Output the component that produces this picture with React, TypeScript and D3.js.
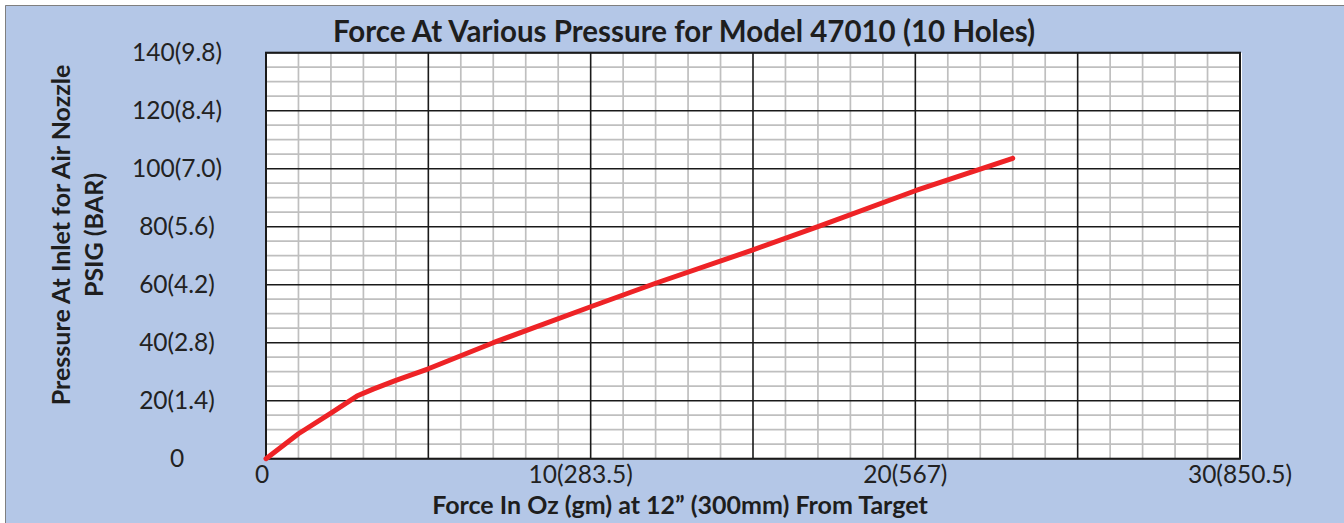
import React from "react";
import * as d3 from "d3";

const title = "Force At Various Pressure for Model 47010 (10 Holes)";
const xTitle = "Force In Oz (gm) at 12\u201D (300mm) From Target";
const yTitleLines = ["Pressure At Inlet for Air Nozzle", "PSIG (BAR)"];

const xTicks = [0, 10, 20, 30];
const xTickLabels = ["0", "10(283.5)", "20(567)", "30(850.5)"];
const yTicks = [0, 20, 40, 60, 80, 100, 120, 140];
const yTickLabels = ["0", "20(1.4)", "40(2.8)", "60(4.2)", "80(5.6)", "100(7.0)", "120(8.4)", "140(9.8)"];

const forceOz = [0, 1, 2, 2.8, 3.3, 4, 5, 7, 10, 12, 15, 17, 20, 23];
const pressurePsig = [0, 8.6, 15.7, 21.6, 24, 27, 31, 40, 52.4, 60.5, 72, 80, 92.4, 103.6];

const W = 1344;
const H = 523;
const FONT = "Lato, 'Open Sans', sans-serif";

export default function App() {
  const x = d3.scaleLinear().domain([0, 30]).range([266, 1240]);
  const y = d3.scaleLinear().domain([0, 140]).range([458.7, 52.7]);
  const [x0, x1] = x.range();
  const [y0, y1] = y.range();

  const minorX = d3.range(0, 31, 1).filter((v) => v % 5 !== 0);
  const majorX = d3.range(0, 31, 5);
  const minorY = d3.range(0, 141, 5).filter((v) => v % 20 !== 0);
  const majorY = d3.range(0, 141, 20);

  const pts: [number, number][] = forceOz.map((f, i) => [f, pressurePsig[i]]);
  const line = d3
    .line<[number, number]>()
    .x((d) => x(d[0]))
    .y((d) => y(d[1]))
    .curve(d3.curveLinear);

  return (
    <svg
      width={W}
      height={H}
      style={{ position: "absolute", left: 0, top: 0, display: "block" }}
    >
      <rect x={0} y={0} width={W} height={H} fill="#ffffff" />
      <rect x={5} y={5} width={W - 5} height={H - 5} fill="#b4c7e7" />
      <line x1={5.5} y1={5.5} x2={W} y2={5.5} stroke="#7f7f7f" strokeWidth={1} />
      <line x1={5.5} y1={5.5} x2={5.5} y2={H} stroke="#7f7f7f" strokeWidth={1} />

      <rect x={x0} y={y1} width={x1 - x0 + 2} height={y0 - y1 + 1} fill="#ffffff" />

      {minorX.map((v) => (
        <line key={"mx" + v} x1={x(v)} x2={x(v)} y1={y1} y2={y0} stroke="#bfbfbf" strokeWidth={1.7} />
      ))}
      {minorY.map((v) => (
        <line key={"my" + v} x1={x0} x2={x1} y1={y(v)} y2={y(v)} stroke="#bfbfbf" strokeWidth={1.7} />
      ))}
      {majorX.map((v) => (
        <line key={"MX" + v} x1={x(v)} x2={x(v)} y1={y1} y2={y0} stroke="#1a1a1a" strokeWidth={1.6} />
      ))}
      {majorY.map((v) => (
        <line key={"MY" + v} x1={x0} x2={x1} y1={y(v)} y2={y(v)} stroke="#1a1a1a" strokeWidth={1.6} />
      ))}
      <rect x={x0} y={y1} width={x1 - x0} height={y0 - y1} fill="none" stroke="#1a1a1a" strokeWidth={2} />

      <path
        d={line(pts) || ""}
        fill="none"
        stroke="#ee2326"
        strokeWidth={5}
        strokeLinecap="round"
        strokeLinejoin="round"
      />

      <text x={684} y={30} textAnchor="middle" dominantBaseline="central" fontFamily={FONT} fontWeight="bold" fontSize={29.5} fill="#1e1e1e">
        {title}
      </text>

      {yTicks.map((v, i) => (
        <text key={"yt" + v} x={177} y={y(v) - 1} textAnchor="middle" dominantBaseline="central" fontFamily={FONT} fontSize={24.5} fill="#222">
          {yTickLabels[i]}
        </text>
      ))}
      {xTicks.map((v, i) => (
        <text key={"xt" + v} x={x(v) - (i === 0 ? 4 : i === 3 ? 0 : 10)} y={473} textAnchor="middle" dominantBaseline="central" fontFamily={FONT} fontSize={24.5} fill="#222">
          {xTickLabels[i]}
        </text>
      ))}

      <text x={680} y={504} textAnchor="middle" dominantBaseline="central" fontFamily={FONT} fontWeight="bold" fontSize={25} fill="#1e1e1e">
        {xTitle}
      </text>

      {yTitleLines.map((t, i) => (
        <text
          key={"ytl" + i}
          transform={`translate(${60 + i * 33},${235}) rotate(-90)`}
          textAnchor="middle"
          dominantBaseline="central"
          fontFamily={FONT}
          fontWeight="bold"
          fontSize={25}
          fill="#1e1e1e"
        >
          {t}
        </text>
      ))}
    </svg>
  );
}
